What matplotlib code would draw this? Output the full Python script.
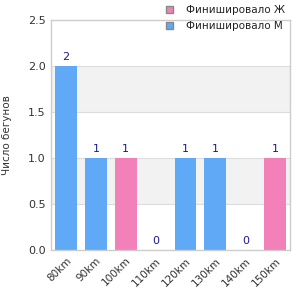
import matplotlib
matplotlib.use('Agg')
import matplotlib.pyplot as plt
from matplotlib.patches import Patch

categories = ['80km', '90km', '100km', '110km', '120km', '130km', '140km', '150km']
values = [2, 1, 1, 0, 1, 1, 0, 1]
groups = ['M', 'M', 'F', 'M', 'M', 'M', 'M', 'F']
series_names = {'F': 'Финишировало Ж', 'M': 'Финишировало М'}
colors = {'F': '#f281b9', 'M': '#60a9f6'}
yticks = [0.0, 0.5, 1.0, 1.5, 2.0, 2.5]

fig = plt.figure(figsize=(3, 3), dpi=100)
ax = fig.add_axes([0.17, 0.167, 0.797, 0.767])

# alternating bands
for i in range(len(yticks) - 1):
    if i % 2 == 1:
        ax.axhspan(yticks[i], yticks[i + 1], color='#f2f2f2', zorder=0, lw=0)
for y in yticks[1:]:
    ax.axhline(y, color='#dddddd', lw=0.8, zorder=0.5)

x = list(range(len(categories)))
for xi, v, g in zip(x, values, groups):
    ax.bar(xi, v, width=0.73, color=colors[g], zorder=2)
    ax.annotate(str(v), (xi, v), xytext=(0, 3), textcoords='offset points',
                ha='center', va='bottom', fontsize=8, color='#1a1a8c')

ax.set_xlim(-0.5, len(categories) - 0.5)
ax.set_ylim(0, 2.5)
ax.set_yticks(yticks)
ax.set_yticklabels(['%.1f' % t for t in yticks], fontsize=8, color='#333333')
ax.set_xticks(x)
ax.set_xticklabels(categories, rotation=45, ha='right', rotation_mode='anchor',
                   fontsize=7.5, color='#333333')
ax.tick_params(length=0, pad=4)
for s in ax.spines.values():
    s.set_color('#cccccc')
    s.set_linewidth(1)
ax.set_ylabel('Число бегунов', fontsize=7.5, color='#333333', labelpad=11)

handles = [Patch(facecolor=colors['F'], edgecolor='#888888', label=series_names['F']),
           Patch(facecolor=colors['M'], edgecolor='#888888', label=series_names['M'])]
fig.legend(handles=handles, loc='upper right', bbox_to_anchor=(0.982, 1.013),
           frameon=False, fontsize=7.5, handlelength=0.65, handleheight=0.65,
           handletextpad=1.3, labelspacing=0.55, labelcolor='#222222')

fig.savefig('out.png', dpi=100)
